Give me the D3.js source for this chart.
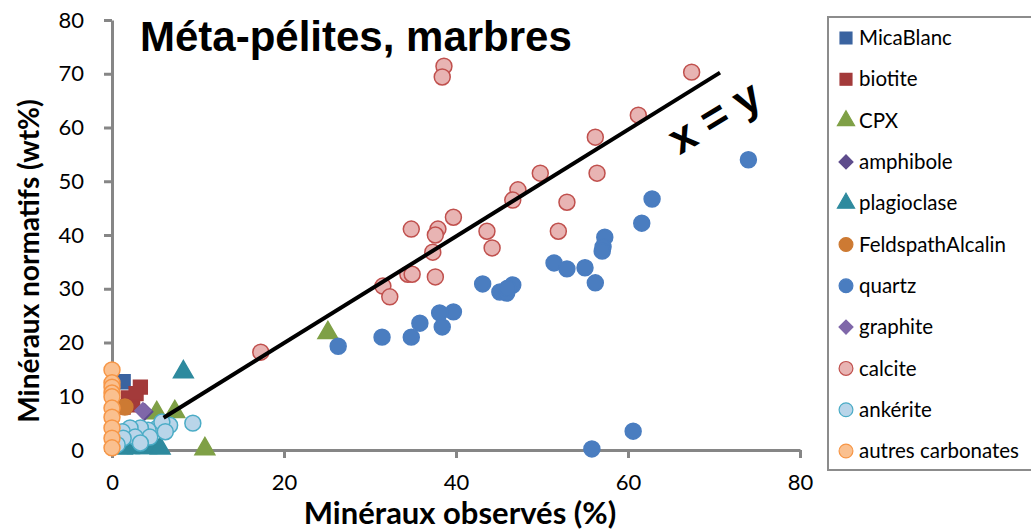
<!DOCTYPE html>
<html><head><meta charset="utf-8">
<script src="https://cdn.jsdelivr.net/npm/d3@7"></script>
<style>body{margin:0;background:#fff}svg{display:block}</style>
</head><body>
<script>
// ---- data ----
const seriesNames = ["MicaBlanc","biotite","CPX","amphibole","plagioclase","FeldspathAlcalin","quartz","graphite","calcite","ankérite","autres carbonates"];
const MicaBlanc = [[1.3,12.7]];
const biotite = [[3.3,11.7],[1.9,9.7],[1.3,8.0],[2.4,8.4],[2.8,10.5]];
const CPX = [[5.2,6.9],[7.3,7.1],[10.8,0.2],[25.1,21.8]];
const amphibole = [[3.8,7.1]];
const plagioclase = [[8.3,14.5],[2.0,0.4],[3.0,0.4],[4.0,0.4],[5.0,0.6],[5.6,0.3],[1.2,0.3]];
const FeldspathAlcalin = [[1.5,8.0],[0.4,1.0]];
const quartz = [[74.0,54.0],[62.8,46.7],[61.6,42.2],[57.3,39.6],[57.1,37.8],[57.0,37.0],[51.4,34.8],[52.9,33.7],[55.0,33.9],[56.2,31.1],[60.6,3.5],[55.8,0.2],
  [43.1,30.9],[45.1,29.4],[45.9,29.2],[46.6,30.7],[46.0,30.1],[39.7,25.7],[38.1,25.5],[38.4,22.9],[35.8,23.6],[34.8,21.0],[31.4,21.0],[26.3,19.3]];
const graphite = [[3.6,7.3]];
const calcite = [[38.6,71.4],[38.4,69.4],[67.4,70.3],[61.2,62.3],[56.2,58.2],[56.4,51.5],[49.8,51.5],[47.2,48.4],[46.6,46.5],[52.9,46.1],[51.9,40.7],
  [39.7,43.3],[34.8,41.1],[37.9,41.1],[37.6,40.0],[37.3,36.8],[34.4,32.7],[34.9,32.7],[37.6,32.2],[31.5,30.5],[32.3,28.5],[43.6,40.7],[44.2,37.6],[17.3,18.2]];
const ankerite = [[9.4,5.0],[6.7,4.6],[5.3,4.1],[4.2,3.7],[3.3,4.1],[2.1,4.1],[1.2,3.4],[4.4,2.4],[2.7,2.4],[5.8,5.2],[6.2,3.4],[1.3,2.2],[3.3,1.3],[0.6,1.0]];
const autresCarbonates = [[0,14.9],[0,12.5],[0,11.7],[0,10.6],[0,9.9],[0,7.8],[0,6.1],[0,4.1],[0,2.2],[0,0.4]];
const identityLine = [[6,6],[70.7,70.2]];
const xTicks = [0,20,40,60,80];
const yTicks = [0,10,20,30,40,50,60,70,80];

// ---- styles ----
const styles = {
  "MicaBlanc":{shape:"square",fill:"#3A63A0",stroke:"#3A63A0",size:190,data:MicaBlanc},
  "biotite":{shape:"square",fill:"#A33A3A",stroke:"#A33A3A",size:190,data:biotite},
  "CPX":{shape:"triangle",fill:"#7FA046",stroke:"#7FA046",size:170,data:CPX},
  "amphibole":{shape:"diamond",fill:"#5E4C8C",stroke:"#5E4C8C",size:130,data:amphibole},
  "plagioclase":{shape:"triangle",fill:"#2E8A9E",stroke:"#2E8A9E",size:170,data:plagioclase},
  "FeldspathAlcalin":{shape:"circle",fill:"#CD7A33",stroke:"#CD7A33",size:200,data:FeldspathAlcalin},
  "quartz":{shape:"circle",fill:"#4A7DC0",stroke:"#4A7DC0",size:200,data:quartz},
  "graphite":{shape:"diamond",fill:"#7F67A9",stroke:"#7F67A9",size:130,data:graphite},
  "calcite":{shape:"circle",fill:"#E8B4B3",stroke:"#C0504D",size:200,data:calcite},
  "ankérite":{shape:"circle",fill:"#B9D5E9",stroke:"#4BACC6",size:200,data:ankerite},
  "autres carbonates":{shape:"circle",fill:"#FAC08F",stroke:"#F79646",size:200,data:autresCarbonates}
};
// diamonds drawn as squares rotated 45°
const shapeMap = {square:d3.symbolSquare,triangle:d3.symbolTriangle,diamond:d3.symbolSquare,circle:d3.symbolCircle};
const rot = s => s.shape==="diamond" ? " rotate(45)" : "";

const W=1031,H=531;
const svg = d3.select("body").append("svg").attr("width",W).attr("height",H);
const x = d3.scaleLinear().domain([0,80]).range([112,800]);
const y = d3.scaleLinear().domain([0,80]).range([450,20]);
const tickFont = "Lato, 'Open Sans', sans-serif";

// axes
const xAxis = svg.append("g").attr("transform",`translate(0,${y(0)})`)
  .call(d3.axisBottom(x).tickValues(xTicks).tickSize(8).tickSizeOuter(0).tickFormat(d3.format("d")));
const yAxis = svg.append("g").attr("transform",`translate(${x(0)},0)`)
  .call(d3.axisLeft(y).tickValues(yTicks).tickSize(8).tickSizeOuter(0).tickFormat(d3.format("d")));
[xAxis,yAxis].forEach(g=>{
  g.select(".domain").attr("stroke","#868686").attr("stroke-width",3);
  g.selectAll(".tick line").attr("stroke","#868686").attr("stroke-width",3);
  g.selectAll(".tick text").attr("font-family",tickFont).attr("font-size",22).attr("fill","#000");
});
xAxis.selectAll(".tick text").attr("y",24).attr("dy","0.71em");
yAxis.selectAll(".tick text").attr("x",-28);

// series
seriesNames.forEach(name=>{
  const s = styles[name];
  svg.append("g").selectAll("path").data(s.data).join("path")
    .attr("transform",d=>`translate(${x(d[0])},${y(d[1])})${rot(s)}`)
    .attr("d",d3.symbol().type(shapeMap[s.shape]).size(s.size))
    .attr("fill",s.fill).attr("stroke",s.stroke).attr("stroke-width",1.5);
});

// identity line
svg.append("path").datum(identityLine)
  .attr("d",d3.line().x(d=>x(d[0])).y(d=>y(d[1])))
  .attr("stroke","#000").attr("stroke-width",4).attr("fill","none");

// x = y label
svg.append("text").attr("transform","translate(722,130) rotate(-31)")
  .attr("text-anchor","middle").attr("font-family","Liberation Sans, Arial, sans-serif")
  .attr("font-weight","bold").attr("font-size",44).text("x = y");

// title
svg.append("text").attr("x",140).attr("y",51)
  .attr("font-family","Liberation Sans, Arial, sans-serif").attr("font-weight","bold")
  .attr("font-size",42).text("Méta-pélites, marbres");

// axis titles
svg.append("text").attr("x",460).attr("y",524).attr("text-anchor","middle")
  .attr("font-family",tickFont).attr("font-weight","bold").attr("font-size",31).text("Minéraux observés (%)");
svg.append("text").attr("transform","translate(39,261) rotate(-90)").attr("text-anchor","middle")
  .attr("font-family",tickFont).attr("font-weight","bold").attr("font-size",28).text("Minéraux normatifs (wt%)");

// legend
const lg = svg.append("g");
lg.append("rect").attr("x",828).attr("y",17).attr("width",220).attr("height",453)
  .attr("fill","#fff").attr("stroke","#8c8c8c").attr("stroke-width",2);
const legendY = d3.scalePoint().domain(seriesNames).range([38,451]);
seriesNames.forEach(name=>{
  const s = styles[name];
  const yy = legendY(name);
  lg.append("path").attr("transform",`translate(846,${yy})${rot(s)}`)
    .attr("d",d3.symbol().type(shapeMap[s.shape]).size(s.size*0.75))
    .attr("fill",s.fill).attr("stroke",s.stroke).attr("stroke-width",1.2);
  lg.append("text").attr("x",859).attr("y",yy).attr("dy","0.35em")
    .attr("font-family",tickFont).attr("font-size",20.5).attr("fill","#000").text(name);
});
</script>
</body></html>
